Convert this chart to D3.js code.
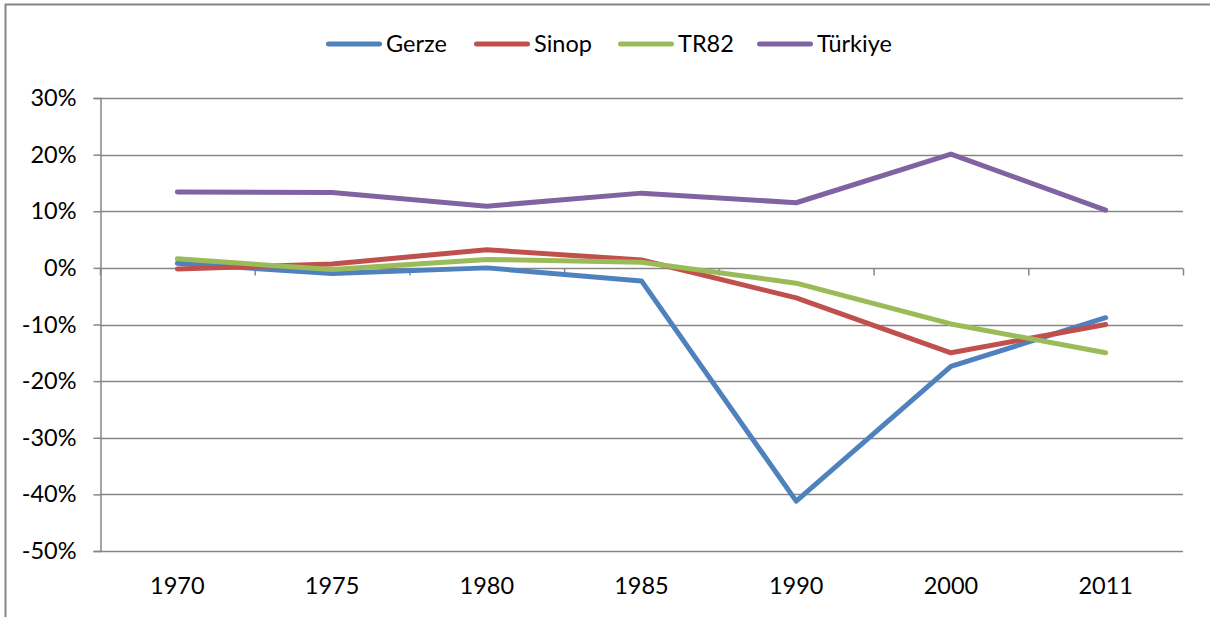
<!DOCTYPE html>
<html>
<head>
<meta charset="utf-8">
<title>Nüfus Artış Hızı</title>
<script src="https://d3js.org/d3.v7.min.js"></script>
<style>
  body { margin: 0; background: #fff; }
  svg text { font-family: Lato, "Open Sans", sans-serif; fill: #000; }
</style>
</head>
<body>
<svg id="chart" width="1210" height="617"></svg>
<script>
// data (percent change)
const years = ["1970", "1975", "1980", "1985", "1990", "2000", "2011"];
const gerze   = [0.8, -1.0, 0.0, -2.3, -41.2, -17.4, -8.8];
const sinop   = [-0.2, 0.7, 3.2, 1.4, -5.3, -15.0, -10.0];
const tr82    = [1.6, -0.3, 1.5, 1.0, -2.7, -9.9, -15.0];
const turkiye = [13.4, 13.3, 10.9, 13.2, 11.5, 20.1, 10.2];
const yTicks = [30, 20, 10, 0, -10, -20, -30, -40, -50];

const series = [
  { name: "Gerze", values: gerze, color: "#4F81BD" },
  { name: "Sinop", values: sinop, color: "#C0504D" },
  { name: "TR82", values: tr82, color: "#9BBB59" },
  { name: "Türkiye", values: turkiye, color: "#8064A2" }
];

const svg = d3.select("#chart");
const grey = "#868686";
const fontSize = "23.5px";

// outer frame
svg.append("rect")
  .attr("x", 5.5).attr("y", 4.5)
  .attr("width", 1300).attr("height", 700)
  .attr("fill", "none").attr("stroke", grey).attr("stroke-width", 2);

const x = d3.scaleBand().domain(years).range([100, 1183]);
const y = d3.scaleLinear().domain([-50, 30]).range([551, 98]);

// gridlines
svg.append("g").selectAll("line")
  .data(yTicks.filter(d => d !== 0))
  .enter().append("line")
  .attr("x1", 100).attr("x2", 1183)
  .attr("y1", d => Math.round(y(d)) + 0.5)
  .attr("y2", d => Math.round(y(d)) + 0.5)
  .attr("stroke", grey).attr("stroke-width", 1.5);

// y axis
const yAxis = d3.axisLeft(y)
  .tickValues(yTicks)
  .tickSize(7)
  .tickPadding(17)
  .tickFormat(d => d + "%");
const yG = svg.append("g").attr("transform", "translate(100.5,0)").call(yAxis);
yG.select(".domain").attr("stroke", grey).attr("stroke-width", 1.5);
yG.selectAll(".tick line").attr("stroke", grey).attr("stroke-width", 1.5);
yG.selectAll(".tick text").style("font-size", fontSize);

// x axis at zero line, tick marks on band edges
const zeroY = Math.round(y(0)) + 0.5;
svg.append("line")
  .attr("x1", 100).attr("x2", 1183)
  .attr("y1", zeroY).attr("y2", zeroY)
  .attr("stroke", grey).attr("stroke-width", 1.5);
const edges = years.map(d => x(d)).concat([x.range()[1]]);
svg.append("g").selectAll("line")
  .data(edges)
  .enter().append("line")
  .attr("x1", d => d + 0.5).attr("x2", d => d + 0.5)
  .attr("y1", zeroY).attr("y2", zeroY + 7)
  .attr("stroke", grey).attr("stroke-width", 1.5);

// category labels at bottom
svg.append("g").selectAll("text")
  .data(years)
  .enter().append("text")
  .attr("x", d => x(d) + x.bandwidth() / 2)
  .attr("y", 594)
  .attr("text-anchor", "middle")
  .style("font-size", fontSize)
  .text(d => d);

// lines
const line = d3.line()
  .x((d, i) => x(years[i]) + x.bandwidth() / 2)
  .y(d => y(d));

series.forEach(s => {
  svg.append("path")
    .attr("d", line(s.values))
    .attr("fill", "none")
    .attr("stroke", s.color)
    .attr("stroke-width", 5)
    .attr("stroke-linejoin", "round")
    .attr("stroke-linecap", "round");
});

// legend
const legendX = [326, 474, 618, 757];
const legend = svg.append("g");
series.forEach((s, i) => {
  legend.append("line")
    .attr("x1", legendX[i] + 2.5).attr("x2", legendX[i] + 53.5)
    .attr("y1", 44).attr("y2", 44)
    .attr("stroke", s.color).attr("stroke-width", 5)
    .attr("stroke-linecap", "round");
  legend.append("text")
    .attr("x", legendX[i] + 60)
    .attr("y", 52)
    .style("font-size", fontSize)
    .text(s.name);
});
</script>
</body>
</html>
